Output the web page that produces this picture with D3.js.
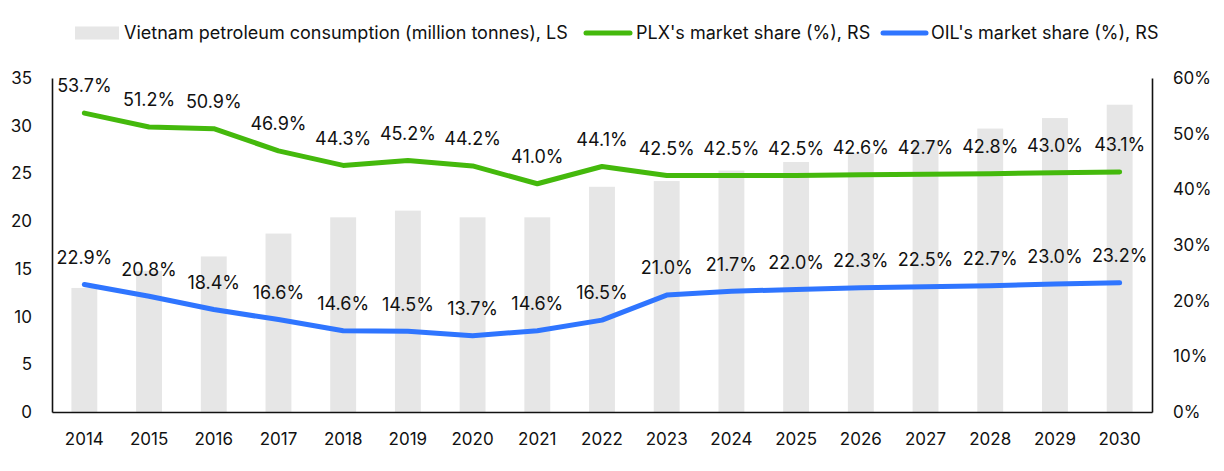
<!DOCTYPE html>
<html>
<head>
<meta charset="utf-8">
<script src="https://cdn.jsdelivr.net/npm/d3@7"></script>
<style>
  html, body { margin: 0; padding: 0; background: #fff; }
  svg { display: block; font-family: Inter, "Noto Sans", sans-serif; }
</style>
</head>
<body>
<svg id="chart" width="1224" height="471"></svg>
<script>
const years = ["2014","2015","2016","2017","2018","2019","2020","2021","2022","2023","2024","2025","2026","2027","2028","2029","2030"];
const consumption = [13.0, 14.8, 16.3, 18.7, 20.4, 21.1, 20.4, 20.4, 23.6, 24.2, 25.3, 26.2, 27.1, 28.5, 29.7, 30.8, 32.2];
const plxShare = [53.7, 51.2, 50.9, 46.9, 44.3, 45.2, 44.2, 41.0, 44.1, 42.5, 42.5, 42.5, 42.6, 42.7, 42.8, 43.0, 43.1];
const oilShare = [22.9, 20.8, 18.4, 16.6, 14.6, 14.5, 13.7, 14.6, 16.5, 21.0, 21.7, 22.0, 22.3, 22.5, 22.7, 23.0, 23.2];
const leftTicks = [0, 5, 10, 15, 20, 25, 30, 35];
const rightTicks = [0, 10, 20, 30, 40, 50, 60];
const legendLabels = ["Vietnam petroleum consumption (million tonnes), LS", "PLX's market share (%), RS", "OIL's market share (%), RS"];

const svg = d3.select("#chart");
const m = {left: 52, right: 1152, top: 78, bottom: 412};
const green = "#44B90C", blue = "#2F75FF", grey = "#E6E6E6", txt = "#111";
const fs = 17, fsL = 18;

const x = d3.scaleBand().domain(years).range([m.left, m.right]).paddingInner(0.6).paddingOuter(0.3);
const yL = d3.scaleLinear().domain([0, 35]).range([m.bottom, m.top]);
const yR = d3.scaleLinear().domain([0, 60]).range([m.bottom, m.top]);

// bars
svg.append("g").selectAll("rect").data(years).join("rect")
  .attr("x", d => x(d))
  .attr("width", x.bandwidth())
  .attr("y", (d, i) => yL(consumption[i]))
  .attr("height", (d, i) => yL(0) - yL(consumption[i]))
  .attr("fill", grey);

// axes
const axL = svg.append("g").attr("transform", `translate(${m.left},0)`)
  .call(d3.axisLeft(yL).tickValues(leftTicks).tickSize(0).tickPadding(20));
const axR = svg.append("g").attr("transform", `translate(${m.right},0)`)
  .call(d3.axisRight(yR).tickValues(rightTicks).tickSize(0).tickPadding(21).tickFormat(d => d + "%"));
const axB = svg.append("g").attr("transform", `translate(0,${m.bottom})`)
  .call(d3.axisBottom(x).tickSize(0).tickPadding(21));
[axL, axR, axB].forEach(a => {
  a.select(".domain").attr("stroke", "#111").attr("stroke-width", 1.6);
  a.selectAll("text").attr("font-size", fs).attr("fill", txt).attr("font-family", "Inter, 'Noto Sans', sans-serif");
});

// lines
const lineGen = y => d3.line().x((d, i) => x(years[i]) + x.bandwidth() / 2).y(d => y(d));
svg.append("path").datum(plxShare).attr("d", lineGen(yR))
  .attr("fill", "none").attr("stroke", green).attr("stroke-width", 5).attr("stroke-linejoin", "round").attr("stroke-linecap", "round");
svg.append("path").datum(oilShare).attr("d", lineGen(yR))
  .attr("fill", "none").attr("stroke", blue).attr("stroke-width", 5).attr("stroke-linejoin", "round").attr("stroke-linecap", "round");

// data labels
function labels(data) {
  svg.append("g").selectAll("text").data(data).join("text")
    .attr("x", (d, i) => x(years[i]) + x.bandwidth() / 2)
    .attr("y", d => yR(d) - 27)
    .attr("dy", "0.35em")
    .attr("text-anchor", "middle")
    .attr("font-size", fsL)
    .attr("fill", txt)
    .text(d => d.toFixed(1) + "%");
}
labels(plxShare);
labels(oilShare);

// legend
const ly = 33;
const lg = svg.append("g");
lg.append("rect").attr("x", 75).attr("y", ly - 6.5).attr("width", 44).attr("height", 13).attr("fill", grey);
lg.append("text").attr("x", 124).attr("y", ly).attr("dy", "0.35em").attr("font-size", fsL).attr("fill", txt).text(legendLabels[0]);
lg.append("line").attr("x1", 586).attr("x2", 630).attr("y1", ly).attr("y2", ly).attr("stroke", green).attr("stroke-width", 5).attr("stroke-linecap", "round");
lg.append("text").attr("x", 636).attr("y", ly).attr("dy", "0.35em").attr("font-size", fsL).attr("fill", txt).text(legendLabels[1]);
lg.append("line").attr("x1", 883).attr("x2", 926).attr("y1", ly).attr("y2", ly).attr("stroke", blue).attr("stroke-width", 5).attr("stroke-linecap", "round");
lg.append("text").attr("x", 931).attr("y", ly).attr("dy", "0.35em").attr("font-size", fsL).attr("fill", txt).text(legendLabels[2]);
</script>
</body>
</html>
